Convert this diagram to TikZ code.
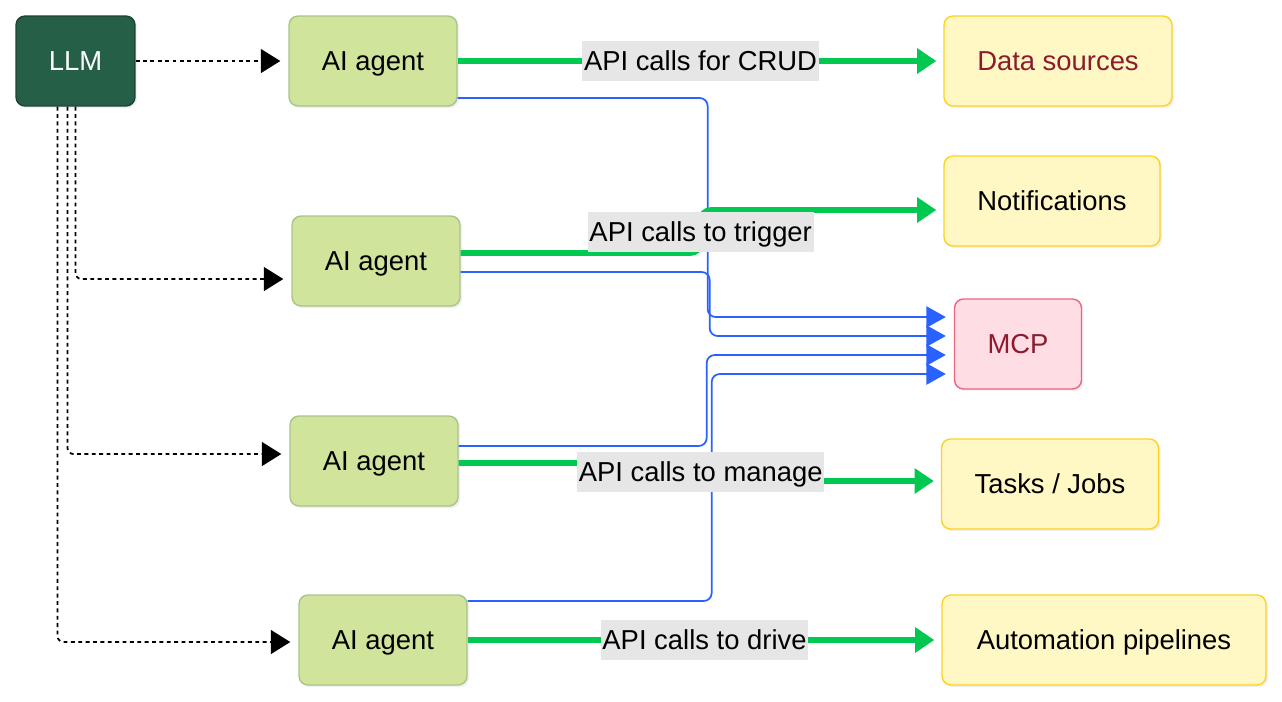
\documentclass[tikz,border=0pt]{standalone}
\usepackage{fontspec}
\setmainfont{Liberation Sans}
\usetikzlibrary{arrows.meta,calc,shadows}

\definecolor{llmfill}{HTML}{265F47}
\definecolor{llmline}{HTML}{1B4433}
\definecolor{agentfill}{HTML}{D0E49B}
\definecolor{agentline}{HTML}{A9C48A}
\definecolor{targetfill}{HTML}{FFF8C4}
\definecolor{targetline}{HTML}{FFD21F}
\definecolor{mcpfill}{HTML}{FFDDE4}
\definecolor{mcpline}{HTML}{EE6580}
\definecolor{darkred}{HTML}{8A1C2E}
\definecolor{flowgreen}{HTML}{00C851}
\definecolor{mcpblue}{HTML}{2962FF}
\definecolor{lblgray}{HTML}{E6E6E6}

\begin{document}
\begin{tikzpicture}[x=0.02cm, y=-0.02cm,
    box/.style={rectangle, rounded corners=0.18cm, minimum height=1.8cm, line width=0.8pt,
        font=\fontsize{15.6pt}{18pt}\selectfont, text height=11.2pt, text depth=0pt,
        drop shadow={opacity=0.12, shadow xshift=1.2pt, shadow yshift=-1.2pt}},
    agent/.style={box, fill=agentfill, draw=agentline, minimum width=3.36cm},
    target/.style={box, fill=targetfill, draw=targetline, minimum width=#1},
    lbl/.style={fill=lblgray, sharp corners, font=\fontsize{15.6pt}{18pt}\selectfont,
        text height=11.2pt, text depth=0pt, inner xsep=1pt, inner ysep=0pt, minimum height=0.8cm},
    flow/.style={draw=flowgreen, line width=3.2pt, rounded corners=0.2cm, shorten >=0.14cm,
        -{Triangle[length=11pt, width=14pt]}},
    mcpcall/.style={draw=mcpblue, line width=1pt, rounded corners=0.16cm,
        -{Triangle[length=11pt, width=12pt]}},
    call/.style={draw=black, line width=1pt, dash pattern=on 2.2pt off 2pt, rounded corners=0.12cm,
        shorten >=0.16cm, -{Triangle[length=11pt, width=13.5pt]}}]
    \useasboundingbox (0,0) rectangle (1282,701);

    % LLM
    \node[box, fill=llmfill, draw=llmline, minimum width=2.38cm, text=white] (llm) at (75.5,61) {LLM};

    % Agents
    \foreach \i/\x/\y in {1/373/61, 2/376/261, 3/374/461, 4/383/640}
        \node[agent] (a\i) at (\x,\y) {AI agent};

    % Targets
    \node[target=4.56cm, text=darkred] (ds) at (1058,61) {Data sources};
    \node[target=4.32cm] (nt) at (1052,201) {Notifications};
    \node[box, fill=mcpfill, draw=mcpline, minimum width=2.54cm, text=darkred] (mcp) at (1018,344) {MCP};
    \node[target=4.34cm] (tj) at (1050,484) {Tasks / Jobs};
    \node[target=6.48cm] (ap) at (1104,640) {Automation pipelines};

    % MCP calls
    \foreach \i/\dy/\len/\ty in {1/37/250/-27, 2/11/249/-8, 3/-15/248/11, 4/-39/244/30}
        \draw[mcpcall] ($(a\i.east)+(0,\dy)$) -- ++(\len,0) |- ($(mcp.west)+(-8,\ty)$);

    % API calls
    \draw[flow] (a1.east) -- node[lbl] {API calls for CRUD} (ds.west);
    \draw[flow] ($(a2.east)+(0,-8)$) -- ++(240,0) |- node[lbl, pos=0.25] {API calls to trigger} ($(nt.west)+(0,9)$);
    \draw[flow] ($(a3.east)+(0,2)$) -- ++(242,0) |- node[lbl, pos=0.25] {API calls to manage} ($(tj.west)+(0,-3)$);
    \draw[flow] (a4.east) -- node[lbl] {API calls to drive} (ap.west);

    % LLM to agents
    \draw[call] (llm.east) -- (a1.west);
    \foreach \i/\dx/\dy in {2/0/18, 3/-8/-7, 4/-18/2}
        \draw[call] ($(llm.south)+(\dx,0)$) |- ($(a\i.west)+(0,\dy)$);
\end{tikzpicture}
\end{document}
